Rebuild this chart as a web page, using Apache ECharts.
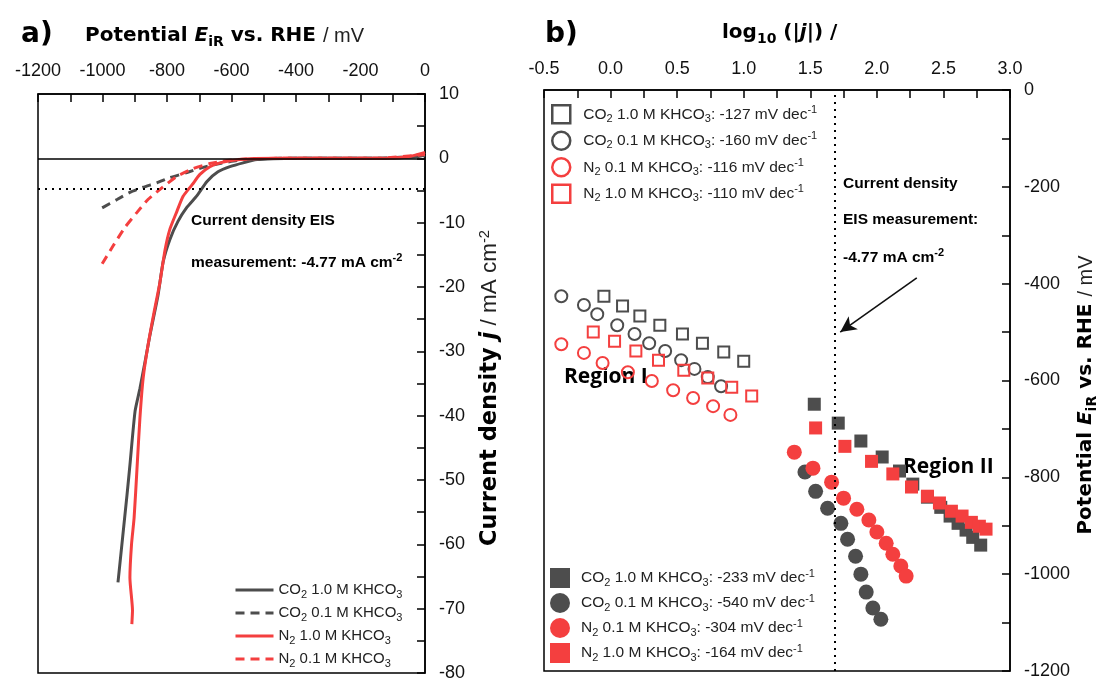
<!DOCTYPE html>
<html>
<head>
<meta charset="utf-8">
<script src="https://cdn.jsdelivr.net/npm/echarts@6/dist/echarts.min.js"></script>
<style>
  html, body { margin: 0; padding: 0; background: #fff; }
  #chart { width: 1107px; height: 682px; }
</style>
</head>
<body>
<div id="chart"></div>
<script>
// ---- panel a: potential (mV) vs current density (mA cm-2)
const eCO2_10 = [-952, -924, -915, -899, -884, -868, -853, -828, -812, -791, -766, -738, -707, -676, -642, -605, -564, -521, -471, -400, -300, -200, -100, -50, -20, 0];
const jCO2_10 = [-65.9, -52.3, -47.7, -39.3, -35.8, -31.6, -27.5, -21.3, -16.1, -12.6, -9.8, -7.6, -5.8, -3.6, -2.1, -1.3, -0.7, -0.2, -0.05, 0, 0, 0, 0.05, 0.15, 0.3, 0.5];
const eCO2_01 = [-1001, -955, -915, -874, -831, -791, -738, -688, -636, -583, -521, -450, -300, -150, 0];
const jCO2_01 = [-7.7, -6.4, -5.3, -4.5, -3.8, -3.0, -2.2, -1.4, -0.8, -0.35, -0.1, 0, 0, 0, 0.4];
const eN2_10 = [-909, -907, -915, -910, -902, -893, -884, -874, -859, -840, -822, -806, -791, -769, -750, -722, -698, -667, -636, -595, -543, -450, -300, -200, -100, -60, -30, 0];
const jN2_10 = [-72.4, -70.3, -65.2, -60, -55.9, -48.2, -40.4, -34.2, -29.1, -23.9, -19.3, -14.2, -11, -8.2, -5.9, -4.1, -2.5, -1.3, -0.7, -0.3, -0.05, 0, 0, 0, 0.05, 0.2, 0.5, 0.9];
const eN2_01 = [-1001, -967, -930, -893, -859, -816, -769, -719, -667, -614, -552, -450, -300, -150, 0];
const jN2_01 = [-16.4, -13.6, -10.7, -8.4, -6.4, -4.6, -2.8, -1.6, -0.8, -0.35, -0.1, 0, 0, 0, 0.6];
const jEIS = -4.77;

// ---- panel b: log10(|j|) vs potential (mV), region I (open) and region II (filled)
const logI_CO2_10 = [-0.05, 0.09, 0.22, 0.37, 0.54, 0.69, 0.85, 1.00];
const eI_CO2_10 = [-426, -446, -467, -486, -504, -523, -541, -560];
const logI_CO2_01 = [-0.37, -0.20, -0.10, 0.05, 0.18, 0.29, 0.41, 0.53, 0.63, 0.73, 0.83];
const eI_CO2_01 = [-426, -444, -463, -486, -504, -523, -539, -558, -576, -593, -612];
const logI_N2_01 = [-0.37, -0.20, -0.06, 0.13, 0.31, 0.47, 0.62, 0.77, 0.90];
const eI_N2_01 = [-525, -543, -564, -583, -601, -620, -636, -653, -671];
const logI_N2_10 = [-0.13, 0.03, 0.19, 0.36, 0.55, 0.73, 0.91, 1.06];
const eI_N2_10 = [-500, -519, -539, -558, -579, -595, -614, -632];

const logII_CO2_10 = [1.53, 1.71, 1.88, 2.04, 2.17, 2.27, 2.38, 2.48, 2.55, 2.61, 2.67, 2.72, 2.78];
const eII_CO2_10 = [-649, -688, -725, -758, -787, -814, -841, -862, -880, -895, -909, -924, -940];
const logII_CO2_01 = [1.46, 1.54, 1.63, 1.73, 1.78, 1.84, 1.88, 1.92, 1.97, 2.03];
const eII_CO2_01 = [-789, -829, -864, -895, -928, -963, -1000, -1037, -1070, -1093];
const logII_N2_01 = [1.38, 1.52, 1.66, 1.75, 1.85, 1.94, 2.00, 2.07, 2.12, 2.18, 2.22];
const eII_N2_01 = [-748, -781, -810, -843, -866, -888, -913, -936, -959, -983, -1004];
const logII_N2_10 = [1.54, 1.76, 1.96, 2.12, 2.26, 2.38, 2.47, 2.56, 2.64, 2.71, 2.77, 2.82];
const eII_N2_10 = [-698, -736, -767, -793, -820, -839, -853, -870, -880, -893, -901, -907];

const slopesI = [-127, -160, -116, -110];
const slopesII = [-233, -540, -304, -164];
const logEIS = 1.678;

const GRAY = '#4d4d4d';
const RED = '#f43f3f';
const ARIAL = 'Liberation Sans, Arial, sans-serif';
const SEGOE = 'DejaVu Sans, Open Sans, sans-serif';
const OPEN = 'Open Sans, Noto Sans, sans-serif';

const zip = (xs, ys) => xs.map((x, i) => [x, ys[i]]);

const chart = echarts.init(document.getElementById('chart'));

const subRich = {
  s: { fontSize: 11, lineHeight: 8, verticalAlign: 'bottom', fontFamily: ARIAL, color: '#222' },
  p: { fontSize: 11, lineHeight: 8, verticalAlign: 'top', fontFamily: ARIAL, color: '#222' }
};

const legendLabelA = {
  'a CO2 1.0': 'CO{s|2} 1.0 M KHCO{s|3}',
  'a CO2 0.1': 'CO{s|2} 0.1 M KHCO{s|3}',
  'a N2 1.0': 'N{s|2} 1.0 M KHCO{s|3}',
  'a N2 0.1': 'N{s|2} 0.1 M KHCO{s|3}'
};
const gasLabels = ['CO{s|2} 1.0', 'CO{s|2} 0.1', 'N{s|2} 0.1', 'N{s|2} 1.0'];
const namesI = ['I CO2 1.0', 'I CO2 0.1', 'I N2 0.1', 'I N2 1.0'];
const namesII = ['II CO2 1.0', 'II CO2 0.1', 'II N2 0.1', 'II N2 1.0'];
const colorsB = [GRAY, GRAY, RED, RED];
const symbolsB = ['rect', 'circle', 'circle', 'rect'];

function labelB(name) {
  let i = namesI.indexOf(name), slopes = slopesI;
  if (i < 0) { i = namesII.indexOf(name); slopes = slopesII; }
  return gasLabels[i] + ' M KHCO{s|3}: ' + slopes[i] + ' mV dec{p|-1}';
}

// ticks point into the plot box
const axisCommon = {
  axisLine: { show: true, onZero: false, lineStyle: { color: '#000', width: 1.5 } },
  axisTick: { show: true, inside: false, length: -8, lineStyle: { color: '#000', width: 1.5 } },
  minorTick: { show: true, splitNumber: 2, length: -8, lineStyle: { color: '#000', width: 1.5 } },
  splitLine: { show: false },
  axisLabel: { fontSize: 18, fontFamily: ARIAL, color: '#111', formatter: v => String(v) }
};

function lineSeries(name, xs, ys, color, dashed) {
  return {
    name: name, type: 'line', xAxisIndex: 0, yAxisIndex: 0,
    data: zip(xs, ys), symbol: 'none', showSymbol: false, smooth: 0.2,
    lineStyle: { color: color, width: 3, type: dashed ? [9, 6] : 'solid' },
    itemStyle: { color: color }, z: 3
  };
}

function scatterSeries(name, xs, ys, idx, filled) {
  const c = colorsB[idx];
  const isRect = symbolsB[idx] === 'rect';
  return {
    name: name, type: 'scatter', xAxisIndex: 1, yAxisIndex: 1,
    data: zip(xs, ys), symbol: symbolsB[idx],
    symbolSize: filled ? (isRect ? 13 : 15) : (isRect ? 11 : 12),
    itemStyle: filled
      ? { color: c, opacity: 1 }
      : { color: 'rgba(0,0,0,0)', borderColor: c, borderWidth: 2, opacity: 1 },
    z: 3
  };
}

const series = [
  lineSeries('a CO2 1.0', eCO2_10, jCO2_10, GRAY, false),
  lineSeries('a CO2 0.1', eCO2_01, jCO2_01, GRAY, true),
  lineSeries('a N2 1.0', eN2_10, jN2_10, RED, false),
  lineSeries('a N2 0.1', eN2_01, jN2_01, RED, true),
  scatterSeries(namesI[0], logI_CO2_10, eI_CO2_10, 0, false),
  scatterSeries(namesI[1], logI_CO2_01, eI_CO2_01, 1, false),
  scatterSeries(namesI[2], logI_N2_01, eI_N2_01, 2, false),
  scatterSeries(namesI[3], logI_N2_10, eI_N2_10, 3, false),
  scatterSeries(namesII[0], logII_CO2_10, eII_CO2_10, 0, true),
  scatterSeries(namesII[1], logII_CO2_01, eII_CO2_01, 1, true),
  scatterSeries(namesII[2], logII_N2_01, eII_N2_01, 2, true),
  scatterSeries(namesII[3], logII_N2_10, eII_N2_10, 3, true)
];

// reference lines: j = 0, EIS current density, and the EIS line + arrow in panel b
series[0].markLine = {
  silent: true, symbol: 'none', label: { show: false }, animation: false,
  data: [
    { yAxis: 0, lineStyle: { color: '#000', width: 1.5, type: 'solid' } },
    { yAxis: jEIS, lineStyle: { color: '#000', width: 2, type: [2, 5] } }
  ]
};
series[4].markLine = {
  silent: true, symbol: 'none', label: { show: false }, animation: false,
  data: [
    { xAxis: logEIS, lineStyle: { color: '#000', width: 2, type: [2, 5] } },
    [
      { coord: [2.30, -388], symbol: 'none', lineStyle: { color: '#111', width: 1.6, type: 'solid' } },
      { coord: [1.725, -500], symbol: 'arrow', symbolSize: [12, 16] }
    ]
  ]
};

const legendText = (extra) => Object.assign({
  fontSize: 15.5, fontFamily: ARIAL, color: '#222', lineHeight: 20, rich: subRich
}, extra || {});

const boldRich = (size) => ({
  b: { fontFamily: SEGOE, fontWeight: 'bold', fontSize: size, lineHeight: 26, fill: '#000' },
  bi: { fontFamily: SEGOE, fontWeight: 'bold', fontStyle: 'italic', fontSize: size, lineHeight: 26, fill: '#000' },
  bs: { fontFamily: SEGOE, fontWeight: 'bold', fontSize: size * 0.7, lineHeight: 12, verticalAlign: 'bottom', fill: '#000' },
  r: { fontFamily: ARIAL, fontSize: size, lineHeight: 26, fill: '#222' },
  rp: { fontFamily: ARIAL, fontSize: size * 0.65, lineHeight: 12, verticalAlign: 'top', fill: '#222' }
});

const option = {
  animation: false,
  backgroundColor: '#fff',
  grid: [
    { left: 38, top: 94, width: 387, height: 582, show: true, borderColor: '#000', borderWidth: 1.5 },
    { left: 544, top: 90, width: 466, height: 581, show: true, borderColor: '#000', borderWidth: 1.5 }
  ],
  xAxis: [
    Object.assign({}, axisCommon, {
      type: 'value', gridIndex: 0, position: 'top', min: -1200, max: 0, interval: 200,
      axisLabel: Object.assign({}, axisCommon.axisLabel, { margin: 14 })
    }),
    Object.assign({}, axisCommon, {
      type: 'value', gridIndex: 1, position: 'top', min: -0.5, max: 3, interval: 0.5,
      axisLabel: Object.assign({}, axisCommon.axisLabel, { margin: 12, formatter: v => v.toFixed(1) })
    })
  ],
  yAxis: [
    Object.assign({}, axisCommon, {
      type: 'value', gridIndex: 0, position: 'right', min: -80, max: 10, interval: 10,
      axisLabel: Object.assign({}, axisCommon.axisLabel, { margin: 14 })
    }),
    Object.assign({}, axisCommon, {
      type: 'value', gridIndex: 1, position: 'right', min: -1200, max: 0, interval: 200,
      axisLabel: Object.assign({}, axisCommon.axisLabel, { margin: 14 })
    })
  ],
  legend: [
    {
      orient: 'vertical', left: 229, top: 575, itemWidth: 38, itemHeight: 10, itemGap: 3,
      selectedMode: false, lineStyle: { width: 3 },
      data: ['a CO2 1.0', 'a CO2 0.1', 'a N2 1.0', 'a N2 0.1'].map(n => ({
        name: n,
        itemStyle: { color: 'rgba(0,0,0,0)', borderColor: 'rgba(0,0,0,0)', borderWidth: 0 }
      })),
      formatter: name => legendLabelA[name],
      textStyle: legendText({ fontSize: 15 })
    },
    {
      orient: 'vertical', left: 546, top: 99, itemWidth: 18, itemHeight: 18, itemGap: 6,
      selectedMode: false,
      data: namesI.map((n, i) => ({
        name: n, icon: symbolsB[i],
        itemStyle: { color: 'rgba(0,0,0,0)', borderColor: colorsB[i], borderWidth: 2.5 }
      })),
      formatter: labelB,
      textStyle: legendText({ padding: [0, 0, 0, 8] })
    },
    {
      orient: 'vertical', left: 545, top: 563, itemWidth: 20, itemHeight: 20, itemGap: 5,
      selectedMode: false,
      data: namesII.map((n, i) => ({
        name: n, icon: symbolsB[i],
        itemStyle: { color: colorsB[i], borderWidth: 0 }
      })),
      formatter: labelB,
      textStyle: legendText({ padding: [0, 0, 0, 6] })
    }
  ],
  graphic: [
    { type: 'text', x: 21, y: 35, style: { text: 'a)', font: 'bold 28px ' + SEGOE, fill: '#000', verticalAlign: 'middle' } },
    { type: 'text', x: 545, y: 35, style: { text: 'b)', font: 'bold 28px ' + SEGOE, fill: '#000', verticalAlign: 'middle' } },
    {
      type: 'text', x: 85, y: 36,
      style: { text: '{b|Potential }{bi|E}{bs|iR}{b| vs. RHE }{r|/ mV}', verticalAlign: 'middle', align: 'left', rich: boldRich(20) }
    },
    {
      type: 'text', x: 722, y: 33,
      style: { text: '{b|log}{bs|10}{b| (|}{bi|j}{b||) /}', verticalAlign: 'middle', align: 'left', rich: boldRich(20) }
    },
    {
      type: 'text', x: 490, y: 388, rotation: Math.PI / 2,
      style: { text: '{b|Current density }{bi|j}{r| / mA cm}{rp|-2}', align: 'center', verticalAlign: 'middle', rich: boldRich(22.5) }
    },
    {
      type: 'text', x: 1086, y: 395, rotation: Math.PI / 2,
      style: { text: '{b|Potential }{bi|E}{bs|iR}{b| vs. RHE }{r|/ mV}', align: 'center', verticalAlign: 'middle', rich: boldRich(20) }
    },
    { type: 'text', x: 191, y: 221, style: { text: 'Current density EIS', font: 'bold 15.5px ' + ARIAL, fill: '#000', verticalAlign: 'middle' } },
    {
      type: 'text', x: 191, y: 263,
      style: {
        text: '{b|measurement: -4.77 mA cm}{p|-2}', verticalAlign: 'middle',
        rich: {
          b: { fontFamily: ARIAL, fontWeight: 'bold', fontSize: 15.5, lineHeight: 22, fill: '#000' },
          p: { fontFamily: ARIAL, fontWeight: 'bold', fontSize: 11, lineHeight: 10, verticalAlign: 'top', fill: '#000' }
        }
      }
    },
    { type: 'text', x: 843, y: 184, style: { text: 'Current density', font: 'bold 15.5px ' + ARIAL, fill: '#000', verticalAlign: 'middle' } },
    { type: 'text', x: 843, y: 220, style: { text: 'EIS measurement:', font: 'bold 15.5px ' + ARIAL, fill: '#000', verticalAlign: 'middle' } },
    {
      type: 'text', x: 843, y: 258,
      style: {
        text: '{b|-4.77 mA cm}{p|-2}', verticalAlign: 'middle',
        rich: {
          b: { fontFamily: ARIAL, fontWeight: 'bold', fontSize: 15.5, lineHeight: 22, fill: '#000' },
          p: { fontFamily: ARIAL, fontWeight: 'bold', fontSize: 11, lineHeight: 10, verticalAlign: 'top', fill: '#000' }
        }
      }
    },
    { type: 'text', x: 564, y: 377, style: { text: 'Region I', font: 'bold 21px ' + OPEN, fill: '#000', verticalAlign: 'middle' } },
    { type: 'text', x: 903, y: 467, style: { text: 'Region II', font: 'bold 21px ' + OPEN, fill: '#000', verticalAlign: 'middle' } }
  ],
  series: series
};

chart.setOption(option);
</script>
</body>
</html>
